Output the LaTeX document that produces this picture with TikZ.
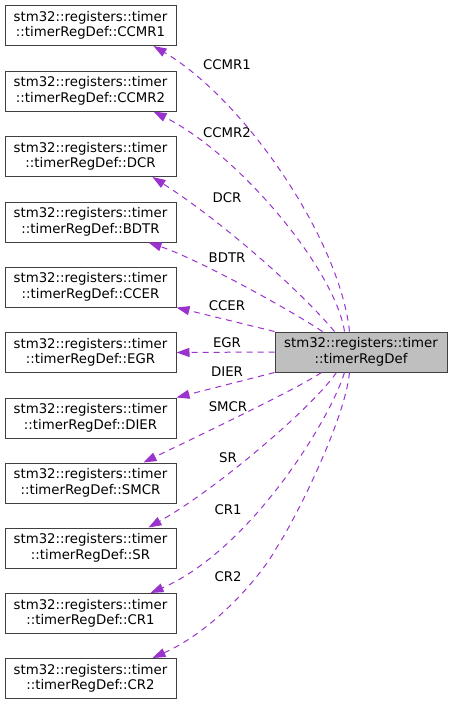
\documentclass[tikz,border=0pt]{standalone}
\usepackage{fontspec}
\setmainfont{DejaVu Sans}
\usetikzlibrary{arrows.meta}
\definecolor{edgec}{HTML}{9A32CD}
\definecolor{rootfill}{HTML}{BFBFBF}
\definecolor{boxline}{HTML}{404040}
\begin{document}
\begin{tikzpicture}[x=1pt,y=-1pt,
  box/.style={draw=boxline, line width=1pt, minimum width=171pt, minimum height=40pt, inner sep=0pt, align=center, font=\fontsize{13.3}{15.5}\selectfont, fill=white},
  rel/.style={draw=edgec, line width=1pt, dash pattern=on 6pt off 5pt, -{Triangle[length=13pt,width=9pt,fill=edgec]}},
  lbl/.style={font=\fontsize{13.3}{15.5}\selectfont, inner sep=0pt}]
\useasboundingbox (0,0) rectangle (452,705);

\node[box] (ccmr1) at (90.5,25.5) {stm32::registers::timer\\::timerRegDef::CCMR1};
\node[box] (ccmr2) at (90.5,91) {stm32::registers::timer\\::timerRegDef::CCMR2};
\node[box] (dcr) at (90.5,156.5) {stm32::registers::timer\\::timerRegDef::DCR};
\node[box] (bdtr) at (90.5,222) {stm32::registers::timer\\::timerRegDef::BDTR};
\node[box] (ccer) at (90.5,287) {stm32::registers::timer\\::timerRegDef::CCER};
\node[box] (egr) at (90.5,352.5) {stm32::registers::timer\\::timerRegDef::EGR};
\node[box] (dier) at (90.5,418) {stm32::registers::timer\\::timerRegDef::DIER};
\node[box] (smcr) at (90.5,483) {stm32::registers::timer\\::timerRegDef::SMCR};
\node[box] (sr) at (90.5,548) {stm32::registers::timer\\::timerRegDef::SR};
\node[box] (cr1) at (90.5,613.5) {stm32::registers::timer\\::timerRegDef::CR1};
\node[box] (cr2) at (90.5,678.5) {stm32::registers::timer\\::timerRegDef::CR2};

\node[box, fill=rootfill, minimum width=172pt] (root) at (361,352) {stm32::registers::timer\\::timerRegDef};

\draw[rel] ([xshift=75pt]root.north west) .. controls (340,240) and (245,100) .. ([xshift=-23pt]ccmr1.south east);
\draw[rel] ([xshift=70pt]root.north west) .. controls (335,270) and (240,155) .. ([xshift=-23pt]ccmr2.south east);
\draw[rel] ([xshift=60pt]root.north west) .. controls (300,290) and (220,220) .. ([xshift=-24pt]dcr.south east);
\draw[rel] ([xshift=48pt]root.north west) .. controls (290,310) and (200,260) .. ([xshift=-28pt]bdtr.south east);
\draw[rel] (root.north west) -- (ccer.south east);
\draw[rel] (root.west) -- (egr.east);
\draw[rel] (root.south west) -- (dier.north east);
\draw[rel] ([xshift=47pt]root.south west) .. controls (295,390) and (200,435) .. ([xshift=-33pt]smcr.north east);
\draw[rel] ([xshift=62pt]root.south west) .. controls (310,410) and (215,490) .. ([xshift=-28pt]sr.north east);
\draw[rel] ([xshift=70pt]root.south west) .. controls (330,420) and (250,550) .. ([xshift=-26pt]cr1.north east);
\draw[rel] ([xshift=75pt]root.south west) .. controls (345,420) and (295,520) .. (277,547) .. controls (262,575) and (215,630) .. ([xshift=-24pt]cr2.north east);

\node[lbl] (lccmr1) at (227,65) {CCMR1};
\node[lbl] (lccmr2) at (227,133) {CCMR2};
\node[lbl] (ldcr) at (227,198) {DCR};
\node[lbl] (lbdtr) at (227,258) {BDTR};
\node[lbl] (lccer) at (227,306) {CCER};
\node[lbl] (legr) at (227,343) {EGR};
\node[lbl] (ldier) at (227,372) {DIER};
\node[lbl] (lsmcr) at (228,407) {SMCR};
\node[lbl] (lsr) at (228,458) {SR};
\node[lbl] (lcr1) at (228,510) {CR1};
\node[lbl] (lcr2) at (228,577) {CR2};
\end{tikzpicture}
\end{document}
